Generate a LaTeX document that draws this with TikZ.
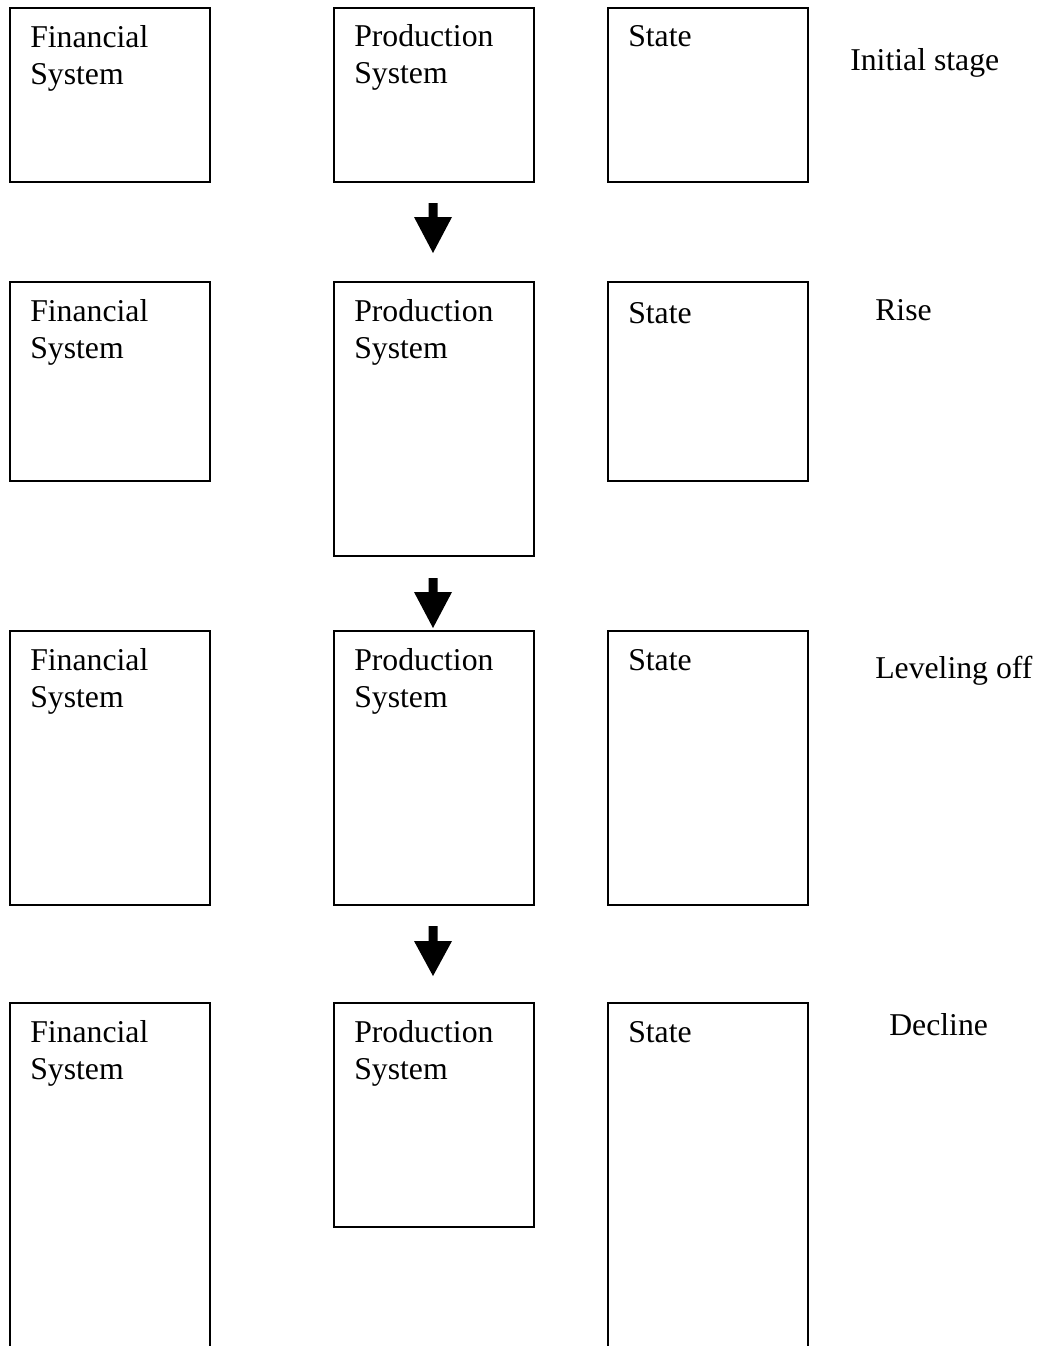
\documentclass[tikz,border=0pt]{standalone}
\usepackage{fontspec}
\setmainfont{Liberation Serif}
\begin{document}
\begin{tikzpicture}[x=0.75pt,y=-0.75pt,
  box/.style={draw=black,line width=1.5pt,rectangle,anchor=north west,inner sep=0pt,minimum width=150pt},
  lbl/.style={anchor=base west,inner sep=0pt,align=left,font=\fontsize{23.8pt}{27.75pt}\selectfont},
  stage/.style={anchor=base west,inner sep=0pt,font=\fontsize{23.8pt}{27.75pt}\selectfont},
  blockarrow/.style={fill=black}]
\useasboundingbox (0,0) rectangle (1042,1346);
\clip (0,0) rectangle (1042,1346);
% Row 1
\node[box,minimum height=130.5pt] (f1) at (9,7) {};
\node[box,minimum height=130.5pt] (p1) at (333,7) {};
\node[box,minimum height=130.5pt] (s1) at (607,7) {};
\node[lbl] (tf1) at (30,84) {Financial\\System};
\node[lbl] (tp1) at (354,83) {Production\\System};
\node[lbl] (ts1) at (628,46) {State};
\node[stage] (st1) at (850,70) {Initial stage};
% Row 2
\node[box,minimum height=149.25pt] (f2) at (9,281) {};
\node[box,minimum height=205.5pt] (p2) at (333,281) {};
\node[box,minimum height=149.25pt] (s2) at (607,281) {};
\node[lbl] (tf2) at (30,358) {Financial\\System};
\node[lbl] (tp2) at (354,358) {Production\\System};
\node[lbl] (ts2) at (628,323) {State};
\node[stage] (st2) at (875,320) {Rise};
% Row 3
\node[box,minimum height=205.5pt] (f3) at (9,630) {};
\node[box,minimum height=205.5pt] (p3) at (333,630) {};
\node[box,minimum height=205.5pt] (s3) at (607,630) {};
\node[lbl] (tf3) at (30,707) {Financial\\System};
\node[lbl] (tp3) at (354,707) {Production\\System};
\node[lbl] (ts3) at (628,670) {State};
\node[stage] (st3) at (875,678) {Leveling off};
% Row 4
\node[box,minimum height=320pt] (f4) at (9,1002) {};
\node[box,minimum height=168pt] (p4) at (333,1002) {};
\node[box,minimum height=320pt] (s4) at (607,1002) {};
\node[lbl] (tf4) at (30,1079) {Financial\\System};
\node[lbl] (tp4) at (354,1079) {Production\\System};
\node[lbl] (ts4) at (628,1042) {State};
\node[stage] (st4) at (889,1035) {Decline};
% Block arrows
\foreach \t/\h/\e in {203/217/253, 578/592/628, 926/941/976}{
  \fill[blockarrow] (428.5,\t) -- (437.5,\t) -- (437.5,\h) -- (452,\h) -- (433,\e) -- (414,\h) -- (428.5,\h) -- cycle;
}
\end{tikzpicture}
\end{document}
